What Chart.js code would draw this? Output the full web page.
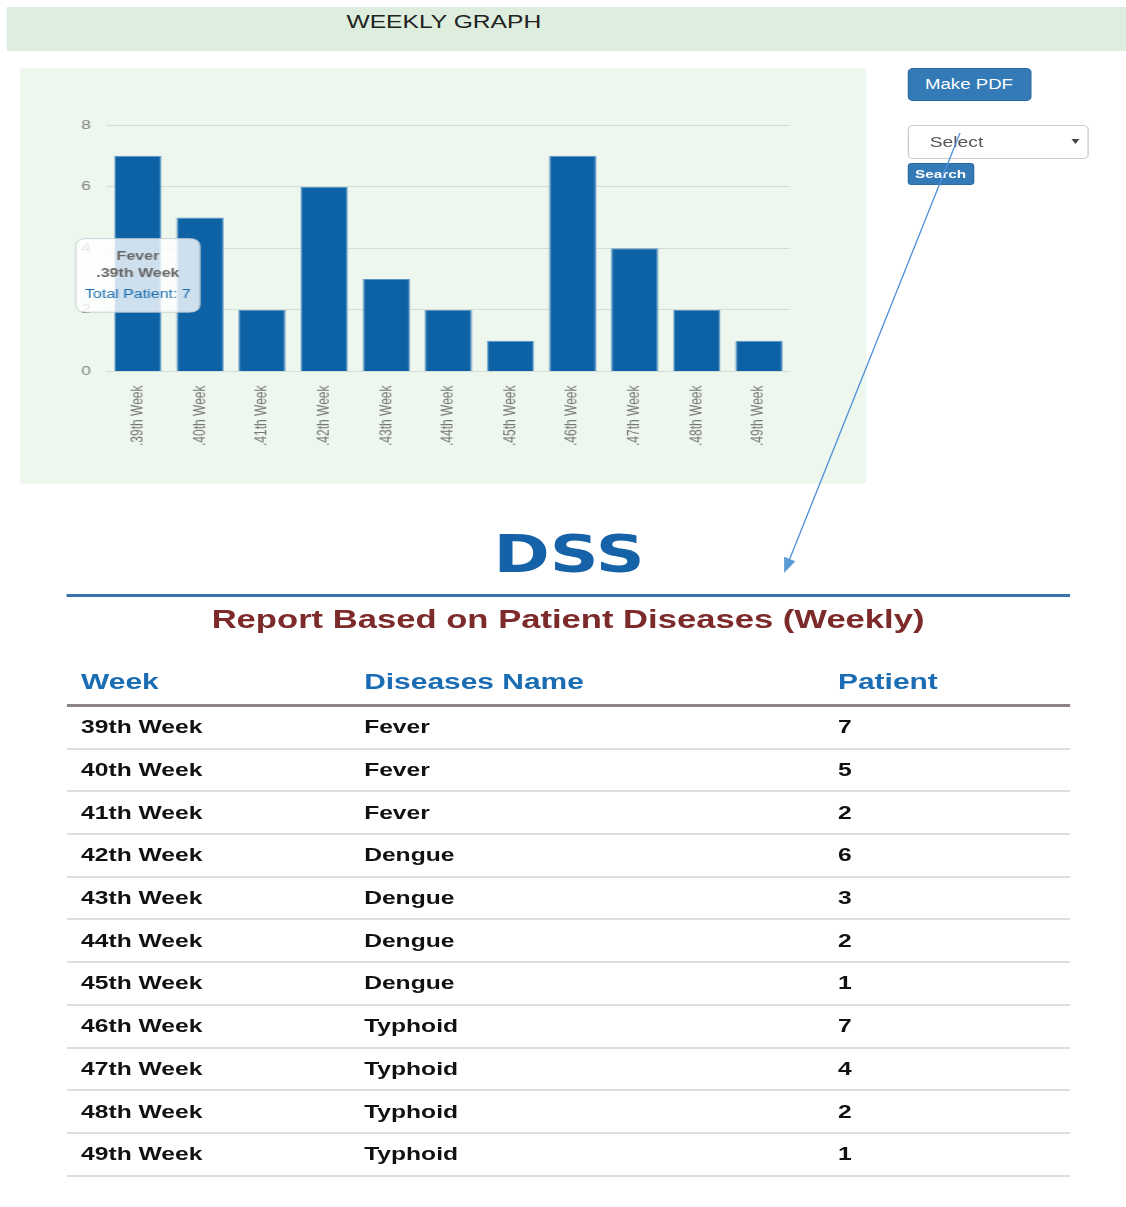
<!DOCTYPE html>
<html>
<head>
<meta charset="utf-8">
<title>Weekly Graph</title>
<script src="https://cdn.jsdelivr.net/npm/chart.js@4.4.1/dist/chart.umd.min.js"></script>
<style>
  html, body { margin: 0; padding: 0; background: #fff; overflow: hidden; }
  body { width: 1126px; height: 1207px; position: relative; font-family: "Liberation Sans", Arial, sans-serif; }
  /* the whole screenshot is stretched sideways, so the page is drawn narrow and scaled */
  #page { position: absolute; left: 0; top: 0; width: 846px; height: 1207px; transform: scaleX(1.331); transform-origin: 0 0; }
  .header { position: absolute; left: 5.3px; top: 7px; width: 840.7px; height: 44px; background: #ddedde; }
  .header span { position: absolute; left: 255px; top: 5px; font-size: 18.5px; line-height: 20px; color: #222; }
  .panel { position: absolute; left: 15px; top: 68px; width: 636px; height: 416px; background: #edf7ee; border-radius: 4px; }
  .panel canvas { position: absolute; left: 0; top: 0; }
  .btn { position: absolute; box-sizing: border-box; background: #337ab7; border: 1px solid #2e6da4; color: #fff; text-align: center; }
  .pdf { left: 681.5px; top: 68px; width: 93px; height: 33px; border-radius: 4px; font-size: 14px; line-height: 31px; }
  .search { left: 681.5px; top: 163px; width: 50.3px; height: 22px; border-radius: 3px; font-size: 11.5px; font-weight: bold; line-height: 20px; }
  .select { position: absolute; box-sizing: border-box; left: 681.5px; top: 125px; width: 136px; height: 34px; border: 1px solid #ccc; border-radius: 4px; background: #fff; }
  .select span { position: absolute; left: 16px; top: 0; font-size: 14.5px; line-height: 32px; color: #555; }
  .select i { position: absolute; left: 122.5px; top: 13px; width: 0; height: 0; border-left: 3px solid transparent; border-right: 3px solid transparent; border-top: 5px solid #444; }
  .logo { position: absolute; left: 327.5px; top: 529px; width: 200px; text-align: center; font-family: "DejaVu Sans", sans-serif; font-weight: bold; font-size: 51px; line-height: 51px; color: #1662a8; }
  .rule { position: absolute; left: 50.3px; top: 594px; width: 753.7px; height: 3px; background: #3a74ad; }
  .title { position: absolute; left: 126.8px; top: 604px; width: 600px; text-align: center; font-size: 26px; font-weight: bold; line-height: 30px; color: #7d2a2a; }
  .table { position: absolute; left: 50.3px; top: 659px; width: 753.7px; }
  .row { display: flex; height: 40.7px; border-bottom: 2px solid #dedede; align-items: center; font-size: 18.5px; font-weight: bold; color: #111; }
  .row.head { height: 45px; border-bottom: 3px solid #8d8486; font-size: 22.5px; color: #1a6cb3; }
  .row div { box-sizing: border-box; padding-left: 10.6px; }
  .c1 { width: 212.7px; } .c2 { width: 356px; } .c3 { width: 185px; }
  svg.arrow { position: absolute; left: 0; top: 0; }
</style>
</head>
<body>
<div id="page">
  <div class="header"><span>WEEKLY GRAPH</span></div>
  <div class="panel"><canvas id="weekChart" width="636" height="416"></canvas></div>
  <div class="btn pdf">Make PDF</div>
  <div class="select"><span>Select</span><i></i></div>
  <div class="btn search">Search</div>
  <div class="logo">DSS</div>
  <div class="rule"></div>
  <div class="title">Report Based on Patient Diseases (Weekly)</div>
  <div class="table" id="report"></div>
</div>
<svg class="arrow" width="1126" height="1207">
  <line x1="960" y1="133" x2="789.7" y2="559" stroke="#4d8ed6" stroke-width="1.3"/>
  <polygon points="784.1,572.9 795.3,561.2 784.1,556.8" fill="#5b9bd5"/>
</svg>
<script>
const weeks = ["39th Week", "40th Week", "41th Week", "42th Week", "43th Week", "44th Week",
               "45th Week", "46th Week", "47th Week", "48th Week", "49th Week"];
const diseases = ["Fever", "Fever", "Fever", "Dengue", "Dengue", "Dengue", "Dengue",
                  "Typhoid", "Typhoid", "Typhoid", "Typhoid"];
const patients = [7, 5, 2, 6, 3, 2, 1, 7, 4, 2, 1];
const yMin = 0, yMax = 8, yStep = 2;
const tableHead = ["Week", "Diseases Name", "Patient"];

// table under the chart
const report = document.getElementById('report');
let html = '<div class="row head"><div class="c1">' + tableHead[0] + '</div><div class="c2">' + tableHead[1] + '</div><div class="c3">' + tableHead[2] + '</div></div>';
weeks.forEach(function (w, i) {
    html += '<div class="row"><div class="c1">' + w + '</div><div class="c2">' + diseases[i] + '</div><div class="c3">' + patients[i] + '</div></div>';
});
report.innerHTML = html;

// chart
Chart.defaults.font.family = "'Liberation Sans', Arial, sans-serif";

// tooltip sits centred on the bar, no caret
Chart.Tooltip.positioners.barCenter = function (items) {
    if (!items.length) return false;
    const bar = items[0].element;
    return { x: bar.x, y: (bar.y + bar.base) / 2 + 12 };
};

const ctx = document.getElementById("weekChart").getContext("2d");

let chart = new Chart(ctx, {
    type: "bar",
    data: {
        labels: weeks.map(w => "." + w),
        datasets: [{
            label: "Total Patient",
            data: patients,
            backgroundColor: "#0d62a6",
            borderColor: "#5a94c6",
            borderWidth: 1,
            barPercentage: 0.95,
            categoryPercentage: 0.8
        }]
    },
    options: {
        responsive: false,
        animation: false,
        events: [],
        layout: { padding: { left: 34, right: 57.5, top: 57, bottom: 32 } },
        scales: {
            x: {
                grid: { display: false },
                border: { display: false },
                ticks: { minRotation: 90, maxRotation: 90, padding: 6, color: "#777", font: { size: 12 } }
            },
            y: {
                min: yMin,
                max: yMax,
                grid: { color: "rgba(0,0,0,0.1)", drawTicks: false },
                border: { display: false },
                ticks: { stepSize: yStep, padding: 12, color: "#808080", font: { size: 13 } }
            }
        },
        plugins: {
            legend: { display: false },
            tooltip: {
                position: "barCenter",
                xAlign: "center",
                yAlign: "center",
                caretSize: 0,
                displayColors: false,
                backgroundColor: "rgba(255,255,255,0.8)",
                borderColor: "rgba(190,200,205,0.8)",
                borderWidth: 1,
                cornerRadius: 8,
                padding: { x: 7, y: 10.7 },
                titleColor: "#666",
                titleFont: { size: 12, weight: "bold" },
                titleAlign: "center",
                titleSpacing: 3,
                titleMarginBottom: 6,
                bodyColor: "#1a6cb0",
                bodyFont: { size: 12 },
                bodyAlign: "center",
                callbacks: {
                    title: items => [diseases[items[0].dataIndex], items[0].label],
                    label: item => "Total Patient: " + item.raw
                }
            }
        }
    }
});

chart.tooltip.setActiveElements([{ datasetIndex: 0, index: 0 }], { x: 0, y: 0 });
chart.update();
</script>
</body>
</html>
